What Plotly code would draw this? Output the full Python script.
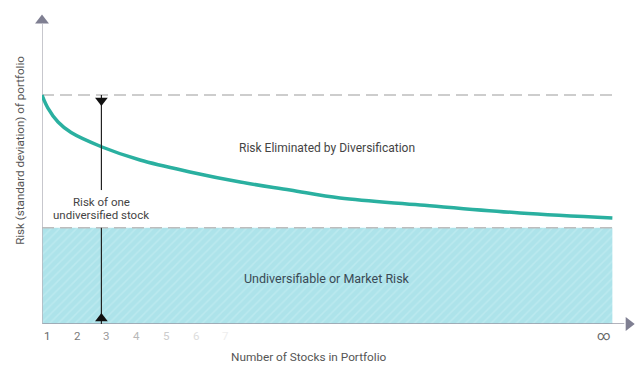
import plotly.graph_objects as go

# Data
stocks = [1, 1.2, 1.54, 1.98, 3.02, 4.3, 5.98, 7.67, 9.35, 11.03, 13.73, 17.09, 20.2]
risk = [100, 94.3, 88.2, 83.6, 77.3, 71.6, 66.4, 62.0, 58.5, 55.0, 52.0, 48.5, 46.3]
total_risk = 100
market_risk = 42
x_end = 20.2
one_stock_n = 3
tick_labels = ["1", "2", "3", "4", "5", "6", "7"]
tick_colors = ["#666666", "#7a7a7a", "#9a9a9a", "#b8b8b8", "#cccccc", "#dddddd", "#eeeeee"]

X0, X1 = 1, 21.13
Y0, Y1 = 0, 141.5

def px(v):
    return (v - X0) / (X1 - X0)

fig = go.Figure()

# shaded market-risk area
fig.add_trace(go.Scatter(
    x=[1, x_end, x_end, 1, 1], y=[0, 0, market_risk, market_risk, 0],
    mode="lines", line=dict(width=0), fill="toself",
    fillcolor="#ade3ea",
    fillpattern=dict(shape="/", bgcolor="#ade3ea", fgcolor="#c9eff3", size=6, solidity=0.25),
    hoverinfo="skip", showlegend=False))

# dashed lines
fig.add_trace(go.Scatter(x=[1, x_end + 0.1], y=[total_risk, total_risk], mode="lines",
                         line=dict(color="#bdbdbd", width=1.5, dash="12px,6px"), showlegend=False))
fig.add_trace(go.Scatter(x=[1, x_end], y=[market_risk, market_risk], mode="lines",
                         line=dict(color="#bdbdbd", width=1.5, dash="12px,6px"), showlegend=False))

# axes lines
fig.add_trace(go.Scatter(x=[1, 20.6], y=[0, 0], mode="lines",
                         line=dict(color="#9a9aa6", width=1.5), showlegend=False, cliponaxis=False))
fig.add_trace(go.Scatter(x=[1, 1], y=[0, 131], mode="lines",
                         line=dict(color="#b4b4bc", width=1.5), showlegend=False, cliponaxis=False))
fig.add_trace(go.Scatter(x=[20.75], y=[0], mode="markers",
                         marker=dict(symbol="triangle-right", size=12, color="#7f7f92"),
                         showlegend=False, cliponaxis=False))
fig.add_trace(go.Scatter(x=[1], y=[132.5], mode="markers",
                         marker=dict(symbol="triangle-up", size=12, color="#7f7f92"),
                         showlegend=False, cliponaxis=False))

# curve
fig.add_trace(go.Scatter(x=stocks, y=risk, mode="lines", line=dict(color="#2ab0a0", width=3.5, shape="spline"),
                         showlegend=False))

# vertical one-stock line
fig.add_trace(go.Scatter(x=[one_stock_n, one_stock_n], y=[total_risk, 58.5], mode="lines",
                         line=dict(color="#222222", width=1.2), showlegend=False))
fig.add_trace(go.Scatter(x=[one_stock_n, one_stock_n], y=[market_risk, 0], mode="lines",
                         line=dict(color="#222222", width=1.2), showlegend=False))
fig.add_trace(go.Scatter(x=[one_stock_n], y=[97.6], mode="markers",
                         marker=dict(symbol="triangle-down", size=11, color="#111111"),
                         showlegend=False, cliponaxis=False))
fig.add_trace(go.Scatter(x=[one_stock_n], y=[2.4], mode="markers",
                         marker=dict(symbol="triangle-up", size=11, color="#111111"),
                         showlegend=False, cliponaxis=False))

font = "Roboto"
ann = []
for i, (t, c) in enumerate(zip(tick_labels, tick_colors)):
    ann.append(dict(x=px(i + 1), y=-0.037, xref="paper", yref="paper", yanchor="middle", text=t,
                    showarrow=False, font=dict(family=font, size=11.5, color=c)))
ann.append(dict(x=px(x_end), y=-0.037, xref="paper", yref="paper", yanchor="middle", text="∞",
                showarrow=False, font=dict(family=font, size=13, color="#666666")))
ann.append(dict(x=one_stock_n, y=53.4, text="Risk of one", showarrow=False,
                font=dict(family=font, size=11.5, color="#444444")))
ann.append(dict(x=one_stock_n, y=47.4, text="undiversified stock", showarrow=False,
                font=dict(family=font, size=11.5, color="#444444")))
ann.append(dict(x=10.6, y=77, text="Risk Eliminated by Diversification", showarrow=False,
                font=dict(family=font, size=12, color="#444444")))
ann.append(dict(x=10.6, y=20, text="Undiversifiable or Market Risk", showarrow=False,
                font=dict(family=font, size=12.5, color="#3a4a55")))
ann.append(dict(x=px(10.0), y=-0.102, xref="paper", yref="paper", yanchor="middle",
                text="Number of Stocks in Portfolio",
                showarrow=False, font=dict(family=font, size=11.8, color="#555555")))
ann.append(dict(x=-0.037, y=76 / Y1, xref="paper", yref="paper", xanchor="center", yanchor="middle",
                text="Risk (standard deviation) of portfolio", showarrow=False, textangle=-90,
                font=dict(family=font, size=11.6, color="#555555")))

fig.update_layout(
    width=640, height=376,
    margin=dict(l=42, r=0, t=0, b=52),
    paper_bgcolor="white", plot_bgcolor="white",
    xaxis=dict(range=[X0, X1], visible=False),
    yaxis=dict(range=[Y0, Y1], visible=False),
    annotations=ann,
)

fig.write_html("out.html", config={"displayModeBar": False},
               post_script="document.body.style.margin='0';")
